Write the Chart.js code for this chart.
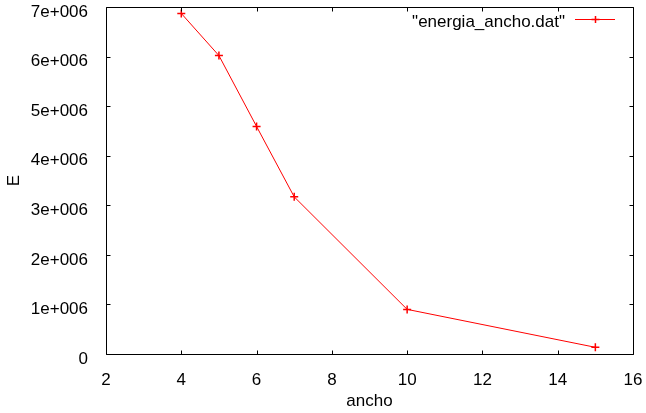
<!DOCTYPE html>
<html>
<head>
<meta charset="utf-8">
<script src="https://cdn.jsdelivr.net/npm/chart.js@4"></script>
<style>
html,body{margin:0;padding:0;background:#fff;}
#wrap{width:646px;height:413px;position:relative;}
</style>
</head>
<body>
<div id="wrap"><canvas id="c" width="646" height="413"></canvas></div>
<script>
const ancho = [4, 5, 6, 7, 10, 15];
const energia = [6870000, 6020000, 4590000, 3170000, 900000, 135000];
const seriesLabel = '"energia_ancho.dat"';
const xTicks = [2, 4, 6, 8, 10, 12, 14, 16];
const yTicks = [0, 1e6, 2e6, 3e6, 4e6, 5e6, 6e6, 7e6];
const xTitle = 'ancho';
const yTitle = 'E';

const FONT = {family: '"Liberation Sans", Arial, sans-serif', size: 17};

function fmtY(v) {
  if (v === 0) return '0';
  const exp = Math.floor(Math.log10(Math.abs(v)));
  const m = v / Math.pow(10, exp);
  return m + 'e+' + String(exp).padStart(3, '0');
}

function zeroPad(s) { s.paddingLeft = 0; s.paddingRight = 0; s.paddingTop = 0; s.paddingBottom = 0; }

const frame = {
  id: 'frame',
  afterDatasetsDraw(chart) {
    const {ctx, chartArea: a, scales: {x, y}} = chart;
    ctx.save();
    ctx.strokeStyle = '#000';
    ctx.lineWidth = 1;
    const L = Math.round(a.left) + 0.5, R = Math.round(a.right) + 0.5;
    const T = Math.round(a.top) + 0.5, B = Math.round(a.bottom) + 0.5;
    ctx.beginPath();
    ctx.rect(L, T, R - L, B - T);
    const tl = 4;
    xTicks.forEach(v => {
      const px = Math.round(x.getPixelForValue(v)) + 0.5;
      ctx.moveTo(px, B); ctx.lineTo(px, B - tl);
      ctx.moveTo(px, T); ctx.lineTo(px, T + tl);
    });
    yTicks.forEach(v => {
      const py = Math.round(y.getPixelForValue(v)) + 0.5;
      ctx.moveTo(L, py); ctx.lineTo(L + tl, py);
      ctx.moveTo(R, py); ctx.lineTo(R - tl, py);
    });
    ctx.stroke();

    // key
    const ds = chart.data.datasets[0];
    ctx.font = FONT.size + 'px ' + FONT.family;
    ctx.fillStyle = '#000';
    ctx.textAlign = 'right';
    ctx.textBaseline = 'middle';
    ctx.fillText(ds.label, 565, 22);
    ctx.strokeStyle = ds.borderColor;
    ctx.lineWidth = 1;
    ctx.beginPath();
    ctx.moveTo(575, 19.5); ctx.lineTo(615, 19.5);
    ctx.stroke();
    ctx.lineWidth = 1.5;
    ctx.beginPath();
    ctx.moveTo(595.5, 16); ctx.lineTo(595.5, 23);
    ctx.moveTo(591.5, 19.5); ctx.lineTo(599.5, 19.5);
    ctx.stroke();
    ctx.restore();
  }
};

new Chart(document.getElementById('c'), {
  type: 'scatter',
  data: {
    datasets: [{
      label: seriesLabel,
      data: ancho.map((a, i) => ({x: a, y: energia[i]})),
      showLine: true,
      borderColor: '#ff0000',
      backgroundColor: '#ff0000',
      borderWidth: 1,
      pointStyle: 'cross',
      pointRadius: 4,
      pointBorderWidth: 1.5,
      pointBorderColor: '#ff0000',
      pointHoverRadius: 4,
      tension: 0
    }]
  },
  options: {
    responsive: false,
    animation: false,
    devicePixelRatio: 1,
    layout: {padding: {top: 7, right: 13, left: 0, bottom: 0}},
    plugins: {legend: {display: false}, tooltip: {enabled: false}},
    scales: {
      x: {
        type: 'linear', min: 2, max: 16,
        afterBuildTicks: s => { s.ticks = xTicks.map(v => ({value: v})); },
        afterFit: s => { s.height = 59; zeroPad(s); },
        grid: {display: false},
        border: {display: false},
        ticks: {color: '#000', font: FONT, padding: 8, maxRotation: 0},
        title: {display: true, text: xTitle, color: '#000', font: FONT, padding: {top: 1, bottom: 1}}
      },
      y: {
        type: 'linear', min: 0, max: 7e6,
        afterBuildTicks: s => { s.ticks = yTicks.map(v => ({value: v})); },
        afterFit: s => { s.width = 106; zeroPad(s); },
        grid: {display: false},
        border: {display: false},
        ticks: {color: '#000', font: FONT, padding: 10, labelOffset: 5, callback: v => fmtY(v)},
        title: {display: true, text: yTitle, color: '#000', font: FONT, padding: {top: 4, bottom: 4}}
      }
    }
  },
  plugins: [frame]
});
</script>
</body>
</html>
